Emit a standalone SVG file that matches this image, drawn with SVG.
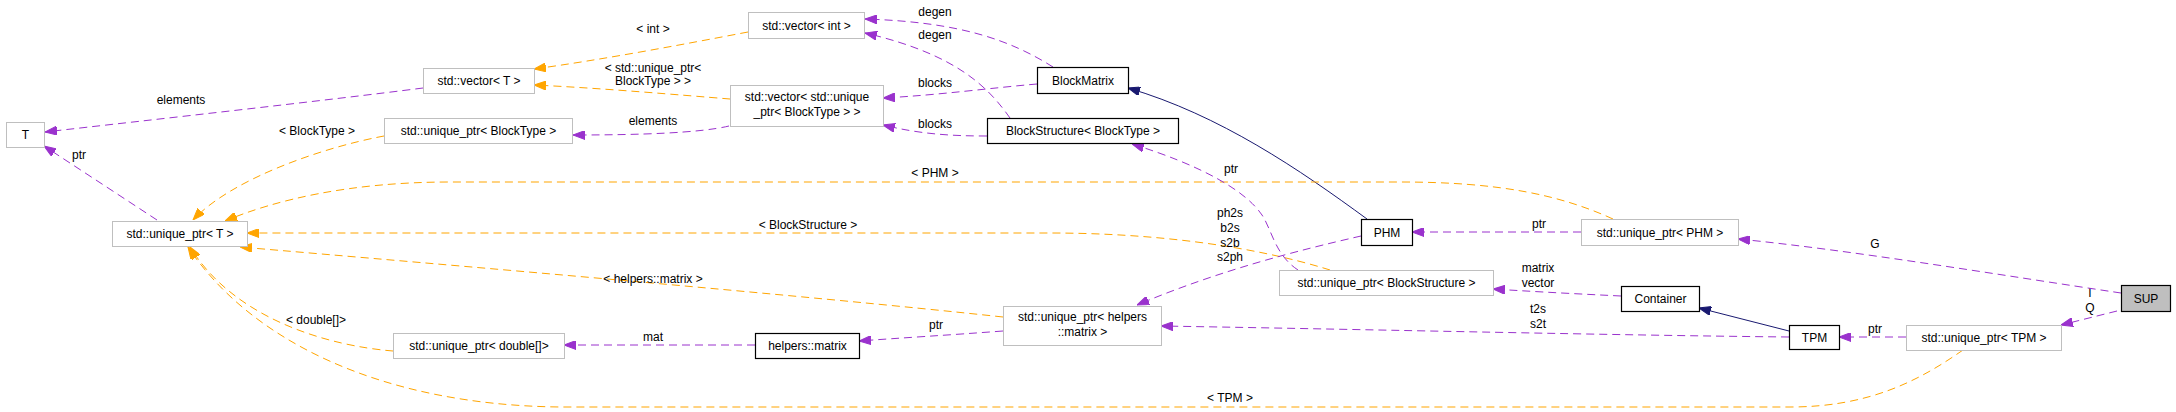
<svg xmlns="http://www.w3.org/2000/svg" width="2176" height="412" viewBox="0 0 2176 412">
<defs>
<style>
text{font-family:"Liberation Sans",Arial,sans-serif;font-size:12px;fill:#000;text-anchor:middle}
.nb{fill:#fff;stroke:#bfbfbf;stroke-width:1}
.db{fill:#fff;stroke:#000;stroke-width:1.2}
.cur{fill:#bfbfbf;stroke:#000;stroke-width:1.2}
.p{fill:none;stroke:#9a32cd;stroke-width:1;stroke-dasharray:8,5;marker-end:url(#ap)}
.o{fill:none;stroke:#ffa500;stroke-width:1;stroke-dasharray:8,5;marker-end:url(#ao)}
.n{fill:none;stroke:#191970;stroke-width:1;marker-end:url(#an)}
</style>
<marker id="ap" markerUnits="userSpaceOnUse" viewBox="0 0 12 9" refX="12" refY="4.5" markerWidth="12" markerHeight="9" orient="auto"><path d="M0,0L12,4.5L0,9z" fill="#9a32cd" stroke="#9a32cd"/></marker>
<marker id="ao" markerUnits="userSpaceOnUse" viewBox="0 0 12 9" refX="12" refY="4.5" markerWidth="12" markerHeight="9" orient="auto"><path d="M0,0L12,4.5L0,9z" fill="#ffa500" stroke="#ffa500"/></marker>
<marker id="an" markerUnits="userSpaceOnUse" viewBox="0 0 12 9" refX="12" refY="4.5" markerWidth="12" markerHeight="9" orient="auto"><path d="M0,0L12,4.5L0,9z" fill="#191970" stroke="#191970"/></marker>
</defs>
<rect width="2176" height="412" fill="#fff"/>
<g id="edges">
<path class="p" d="M423,88 C330,100 150,120 45,132"/>
<text x="181" y="104">elements</text>
<path class="p" d="M157,220 L44,146"/>
<text x="79" y="159">ptr</text>
<path class="o" d="M384,136 C320,148 230,180 193,220"/>
<text x="317" y="135">&lt; BlockType &gt;</text>
<path class="o" d="M748,32 C680,45 600,60 534,69"/>
<text x="653" y="33">&lt; int &gt;</text>
<path class="o" d="M730,99 C680,95 600,88 534,85"/>
<text x="653" y="72">&lt; std::unique_ptr&lt;</text>
<text x="653" y="85">BlockType &gt; &gt;</text>
<path class="p" d="M729,126 C700,133 640,135 573,135"/>
<text x="653" y="125">elements</text>
<path class="p" d="M1053,67 C1010,40 960,22 865,19"/>
<text x="935" y="16">degen</text>
<path class="p" d="M1010,118 C990,90 960,55 865,33"/>
<text x="935" y="39">degen</text>
<path class="p" d="M1037,84 C990,88 940,95 883,98"/>
<text x="935" y="87">blocks</text>
<path class="p" d="M987,136 C950,136 920,134 883,125"/>
<text x="935" y="128">blocks</text>
<path class="n" d="M1367,219 C1300,170 1220,115 1128,88"/>
<path class="o" d="M1613,219 C1560,195 1500,182 1400,182 L450,182 C350,182 275,200 225,221"/>
<text x="935" y="177">&lt; PHM &gt;</text>
<path class="o" d="M1330,270 C1250,245 1150,233 1050,233 L247,233"/>
<text x="808" y="229">&lt; BlockStructure &gt;</text>
<path class="o" d="M1003,317 C800,295 450,265 240,247"/>
<text x="653" y="283">&lt; helpers::matrix &gt;</text>
<path class="o" d="M393,351 C330,346 235,320 190,247"/>
<text x="316" y="324">&lt; double[]&gt;</text>
<path class="o" d="M1963,350 C1920,380 1870,407 1790,407 L560,407 C380,405 250,340 188,247"/>
<text x="1230" y="402">&lt; TPM &gt;</text>
<path class="p" d="M1298,270 C1275,255 1272,230 1262,215 C1245,190 1200,165 1132,144"/>
<text x="1231" y="173">ptr</text>
<path class="p" d="M1361,236 C1300,250 1220,270 1137,305"/>
<text x="1230" y="217">ph2s</text>
<text x="1230" y="232">b2s</text>
<text x="1230" y="247">s2b</text>
<text x="1230" y="261">s2ph</text>
<path class="p" d="M1581,232 L1412,232"/>
<text x="1539" y="228">ptr</text>
<path class="p" d="M1621,296 C1580,294 1540,292 1493,289"/>
<text x="1538" y="272">matrix</text>
<text x="1538" y="287">vector</text>
<path class="n" d="M1789,331 L1699,308"/>
<path class="p" d="M1789,337 C1600,335 1400,330 1161,326"/>
<text x="1538" y="313">t2s</text>
<text x="1538" y="328">s2t</text>
<path class="p" d="M1906,337 L1839,337"/>
<text x="1875" y="333">ptr</text>
<path class="p" d="M2117,311 L2061,325"/>
<text x="2090" y="297">I</text>
<text x="2090" y="312">Q</text>
<path class="p" d="M2121,293 C2000,275 1850,250 1738,239"/>
<text x="1875" y="248">G</text>
<path class="p" d="M755,345 L564,345"/>
<text x="653" y="341">mat</text>
<path class="p" d="M1003,331 C950,335 900,338 859,341"/>
<text x="936" y="329">ptr</text>
</g>
<g id="node-T"><rect class="nb" x="6.5" y="122.5" width="38" height="25"/><text x="25.5" y="139">T</text></g>
<g id="node-vecT"><rect class="nb" x="423.5" y="68.5" width="111" height="25"/><text x="479" y="85">std::vector&lt; T &gt;</text></g>
<g id="node-uptrBT"><rect class="nb" x="384.5" y="118.5" width="188" height="25"/><text x="478.5" y="135">std::unique_ptr&lt; BlockType &gt;</text></g>
<g id="node-uptrT"><rect class="nb" x="112.5" y="221.5" width="135" height="25"/><text x="180" y="238">std::unique_ptr&lt; T &gt;</text></g>
<g id="node-uptrDbl"><rect class="nb" x="393.5" y="333.5" width="171" height="25"/><text x="479" y="350">std::unique_ptr&lt; double[]&gt;</text></g>
<g id="node-vecInt"><rect class="nb" x="748.5" y="12.5" width="116" height="26"/><text x="806.5" y="29.5">std::vector&lt; int &gt;</text></g>
<g id="node-vecUptr"><rect class="nb" x="730.5" y="85.5" width="153" height="41"/><text x="807" y="101">std::vector&lt; std::unique</text><text x="807" y="116">_ptr&lt; BlockType &gt; &gt;</text></g>
<g id="node-BlockMatrix"><rect class="db" x="1037.5" y="67.5" width="91" height="26"/><text x="1083" y="84.5">BlockMatrix</text></g>
<g id="node-BlockStructure"><rect class="db" x="987.5" y="118.5" width="191" height="25"/><text x="1083" y="135">BlockStructure&lt; BlockType &gt;</text></g>
<g id="node-helpersMatrix"><rect class="db" x="755.5" y="333.5" width="104" height="25"/><text x="807.5" y="350">helpers::matrix</text></g>
<g id="node-uptrHM"><rect class="nb" x="1003.5" y="306.5" width="158" height="39"/><text x="1082.5" y="321">std::unique_ptr&lt; helpers</text><text x="1082.5" y="336">::matrix &gt;</text></g>
<g id="node-PHM"><rect class="db" x="1361.5" y="219.5" width="51" height="26"/><text x="1387" y="236.5">PHM</text></g>
<g id="node-uptrPHM"><rect class="nb" x="1581.5" y="219.5" width="157" height="26"/><text x="1660" y="236.5">std::unique_ptr&lt; PHM &gt;</text></g>
<g id="node-uptrBS"><rect class="nb" x="1279.5" y="270.5" width="214" height="25"/><text x="1386.5" y="287">std::unique_ptr&lt; BlockStructure &gt;</text></g>
<g id="node-Container"><rect class="db" x="1621.5" y="286.5" width="78" height="25"/><text x="1660.5" y="303">Container</text></g>
<g id="node-TPM"><rect class="db" x="1789.5" y="325.5" width="50" height="24"/><text x="1814.5" y="341.5">TPM</text></g>
<g id="node-uptrTPM"><rect class="nb" x="1906.5" y="325.5" width="155" height="25"/><text x="1984" y="342">std::unique_ptr&lt; TPM &gt;</text></g>
<g id="node-SUP"><rect class="cur" x="2121.5" y="285.5" width="49" height="26"/><text x="2146" y="302.5">SUP</text></g>
</svg>
